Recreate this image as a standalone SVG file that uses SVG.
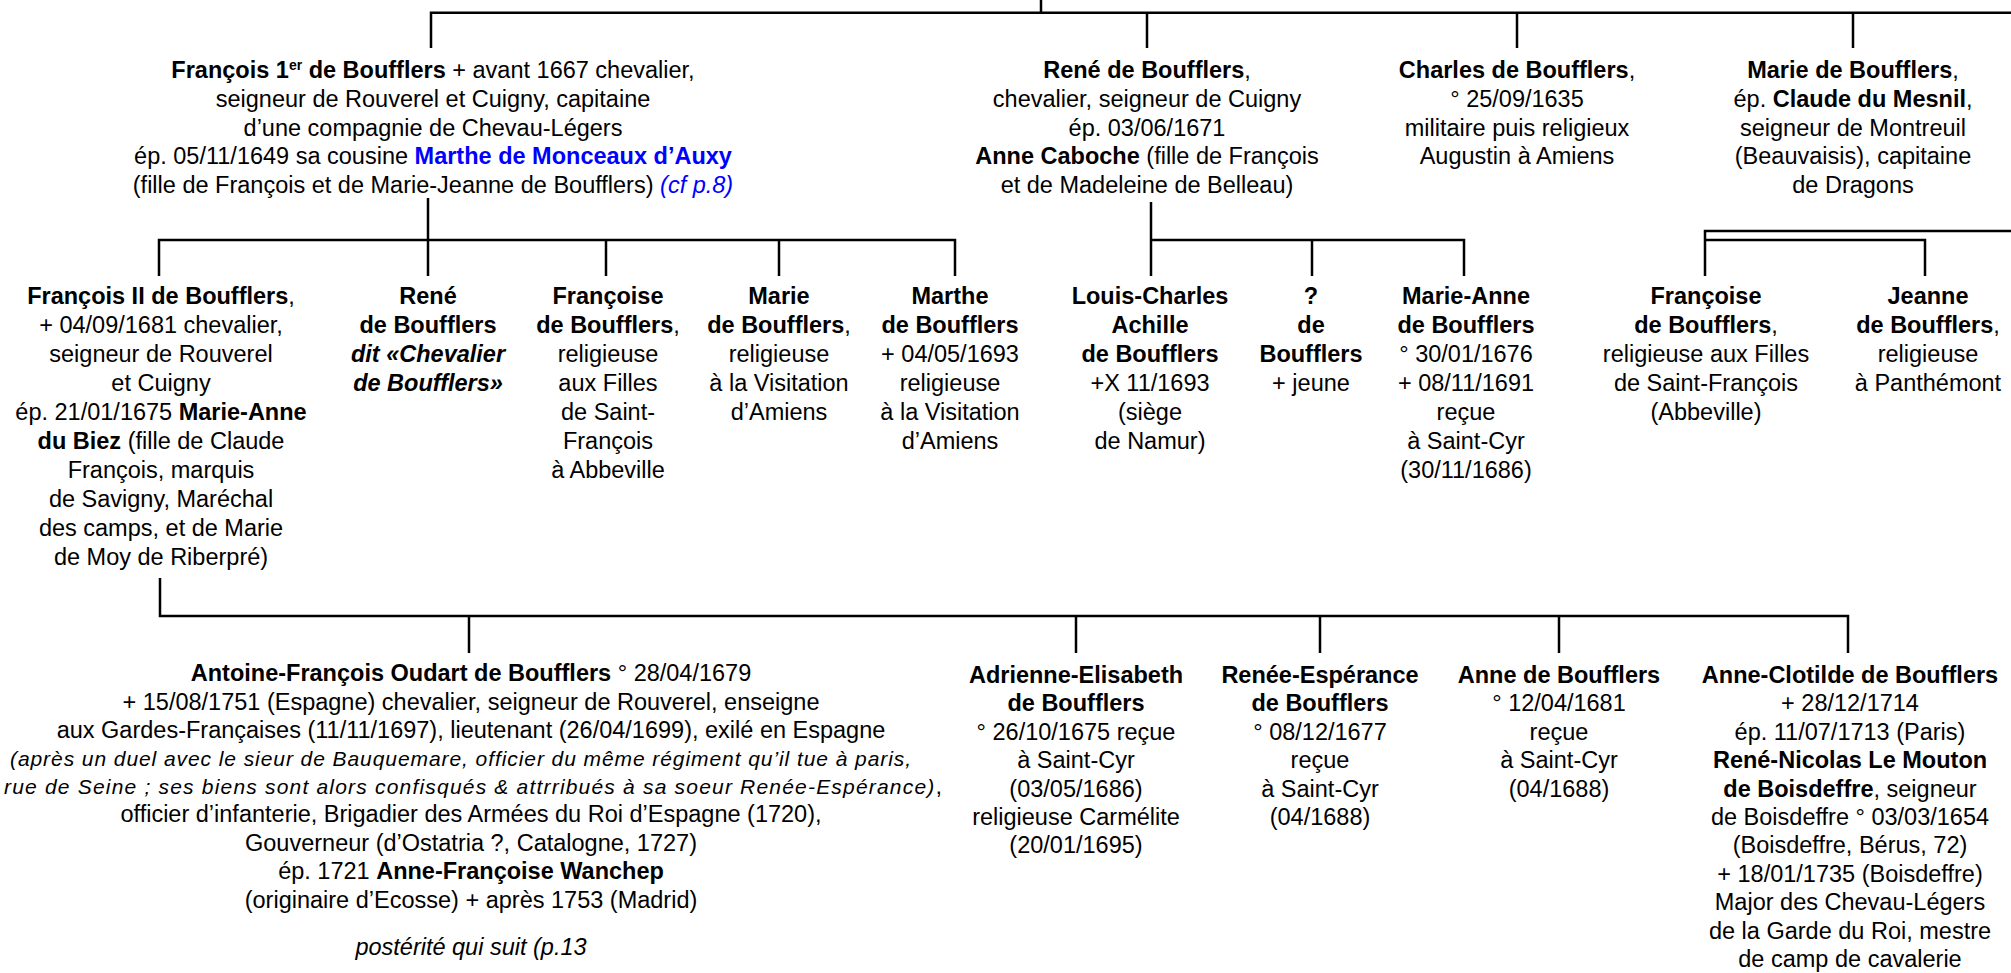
<svg xmlns="http://www.w3.org/2000/svg" width="2011" height="973" viewBox="0 0 2011 973">
<style>
text { font-family: "Liberation Sans", Arial, sans-serif; font-size: 23.5px; fill: #000; text-anchor: middle; }
.b { font-weight: bold; }
.i { font-style: italic; }
.blue { fill: #0000ff; }
.sup { font-size: 14px; font-weight: bold; }
.sm { font-size: 21px; font-style: italic; }
.st { text-anchor: start; }
.ln { stroke: #000; stroke-width: 2.5; fill: none; }
</style>
<rect width="2011" height="973" fill="#fff"/>
<g id="connectors">
<path class="ln" d="M1041,0 V12.7"/>
<path class="ln" d="M431,48 V12.7 H2011"/>
<path class="ln" d="M1147,12.7 V48"/>
<path class="ln" d="M1517,12.7 V48"/>
<path class="ln" d="M1853,12.7 V48"/>
<path class="ln" d="M428,198 V276"/>
<path class="ln" d="M159,276 V240 H955 V276"/>
<path class="ln" d="M606,240 V276"/>
<path class="ln" d="M779,240 V276"/>
<path class="ln" d="M1151,202 V276"/>
<path class="ln" d="M1151,240 H1464 V276"/>
<path class="ln" d="M1312,240 V276"/>
<path class="ln" d="M2011,231 H1705 V276"/>
<path class="ln" d="M1705,240 H1925 V276"/>
<path class="ln" d="M160,578 V616 H1848 V653"/>
<path class="ln" d="M469,616 V653"/>
<path class="ln" d="M1076,616 V653"/>
<path class="ln" d="M1320,616 V653"/>
<path class="ln" d="M1559,616 V653"/>
</g>
<g id="francois1">
<text x="433" y="78.3"><tspan class="b">François 1<tspan class="sup" baseline-shift="super">er</tspan> de Boufflers</tspan> + avant 1667 chevalier,</text>
<text x="433" y="106.9">seigneur de Rouverel et Cuigny, capitaine</text>
<text x="433" y="135.5">d’une compagnie de Chevau-Légers</text>
<text x="433" y="164.1">ép. 05/11/1649 sa cousine <tspan class="b blue">Marthe de Monceaux d’Auxy</tspan></text>
<text x="433" y="192.7">(fille de François et de Marie-Jeanne de Boufflers) <tspan class="i blue">(cf p.8)</tspan></text>
</g>
<g id="rene">
<text x="1147" y="78.3"><tspan class="b">René de Boufflers</tspan>,</text>
<text x="1147" y="106.9">chevalier, seigneur de Cuigny</text>
<text x="1147" y="135.5">ép. 03/06/1671</text>
<text x="1147" y="164.1"><tspan class="b">Anne Caboche</tspan> (fille de François</text>
<text x="1147" y="192.7">et de Madeleine de Belleau)</text>
</g>
<g id="charles">
<text x="1517" y="78.3"><tspan class="b">Charles de Boufflers</tspan>,</text>
<text x="1517" y="106.9">° 25/09/1635</text>
<text x="1517" y="135.5">militaire puis religieux</text>
<text x="1517" y="164.1">Augustin à Amiens</text>
</g>
<g id="marie">
<text x="1853" y="78.3"><tspan class="b">Marie de Boufflers</tspan>,</text>
<text x="1853" y="106.9">ép. <tspan class="b">Claude du Mesnil</tspan>,</text>
<text x="1853" y="135.5">seigneur de Montreuil</text>
<text x="1853" y="164.1">(Beauvaisis), capitaine</text>
<text x="1853" y="192.7">de Dragons</text>
</g>
<g id="francois2">
<text x="161" y="304"><tspan class="b">François II de Boufflers</tspan>,</text>
<text x="161" y="333">+ 04/09/1681 chevalier,</text>
<text x="161" y="362">seigneur de Rouverel</text>
<text x="161" y="391">et Cuigny</text>
<text x="161" y="420">ép. 21/01/1675 <tspan class="b">Marie-Anne</tspan></text>
<text x="161" y="449"><tspan class="b">du Biez</tspan> (fille de Claude</text>
<text x="161" y="478">François, marquis</text>
<text x="161" y="507">de Savigny, Maréchal</text>
<text x="161" y="536">des camps, et de Marie</text>
<text x="161" y="565">de Moy de Riberpré)</text>
</g>
<g id="rene-chevalier">
<text x="428" y="304" class="b">René</text>
<text x="428" y="333" class="b">de Boufflers</text>
<text x="428" y="362" class="b i">dit «Chevalier</text>
<text x="428" y="391" class="b i">de Boufflers»</text>
</g>
<g id="francoise1">
<text x="608" y="304" class="b">Françoise</text>
<text x="608" y="333"><tspan class="b">de Boufflers</tspan>,</text>
<text x="608" y="362">religieuse</text>
<text x="608" y="391">aux Filles</text>
<text x="608" y="420">de Saint-</text>
<text x="608" y="449">François</text>
<text x="608" y="478">à Abbeville</text>
</g>
<g id="marie2">
<text x="779" y="304" class="b">Marie</text>
<text x="779" y="333"><tspan class="b">de Boufflers</tspan>,</text>
<text x="779" y="362">religieuse</text>
<text x="779" y="391">à la Visitation</text>
<text x="779" y="420">d’Amiens</text>
</g>
<g id="marthe">
<text x="950" y="304" class="b">Marthe</text>
<text x="950" y="333" class="b">de Boufflers</text>
<text x="950" y="362">+ 04/05/1693</text>
<text x="950" y="391">religieuse</text>
<text x="950" y="420">à la Visitation</text>
<text x="950" y="449">d’Amiens</text>
</g>
<g id="louis-charles">
<text x="1150" y="304" class="b">Louis-Charles</text>
<text x="1150" y="333" class="b">Achille</text>
<text x="1150" y="362" class="b">de Boufflers</text>
<text x="1150" y="391">+X 11/1693</text>
<text x="1150" y="420">(siège</text>
<text x="1150" y="449">de Namur)</text>
</g>
<g id="inconnu">
<text x="1311" y="304" class="b">?</text>
<text x="1311" y="333" class="b">de</text>
<text x="1311" y="362" class="b">Boufflers</text>
<text x="1311" y="391">+ jeune</text>
</g>
<g id="marie-anne">
<text x="1466" y="304" class="b">Marie-Anne</text>
<text x="1466" y="333" class="b">de Boufflers</text>
<text x="1466" y="362">° 30/01/1676</text>
<text x="1466" y="391">+ 08/11/1691</text>
<text x="1466" y="420">reçue</text>
<text x="1466" y="449">à Saint-Cyr</text>
<text x="1466" y="478">(30/11/1686)</text>
</g>
<g id="francoise2">
<text x="1706" y="304" class="b">Françoise</text>
<text x="1706" y="333"><tspan class="b">de Boufflers</tspan>,</text>
<text x="1706" y="362">religieuse aux Filles</text>
<text x="1706" y="391">de Saint-François</text>
<text x="1706" y="420">(Abbeville)</text>
</g>
<g id="jeanne">
<text x="1928" y="304" class="b">Jeanne</text>
<text x="1928" y="333"><tspan class="b">de Boufflers</tspan>,</text>
<text x="1928" y="362">religieuse</text>
<text x="1928" y="391">à Panthémont</text>
</g>
<g id="antoine">
<text x="471" y="681"><tspan class="b">Antoine-François Oudart de Boufflers</tspan> ° 28/04/1679</text>
<text x="471" y="709.5">+ 15/08/1751 (Espagne) chevalier, seigneur de Rouverel, enseigne</text>
<text x="471" y="738">aux Gardes-Françaises (11/11/1697), lieutenant (26/04/1699), exilé en Espagne</text>
<text x="10" y="765.5" class="sm st" textLength="901" lengthAdjust="spacing">(après un duel avec le sieur de Bauquemare, officier du même régiment qu’il tue à paris,</text>
<text x="4" y="794" class="st" textLength="938" lengthAdjust="spacing"><tspan class="sm">rue de Seine ; ses biens sont alors confisqués &amp; attrribués à sa soeur Renée-Espérance)</tspan>,</text>
<text x="471" y="822">officier d’infanterie, Brigadier des Armées du Roi d’Espagne (1720),</text>
<text x="471" y="850.5">Gouverneur (d’Ostatria ?, Catalogne, 1727)</text>
<text x="471" y="879">ép. 1721 <tspan class="b">Anne-Françoise Wanchep</tspan></text>
<text x="471" y="907.5">(originaire d’Ecosse) + après 1753 (Madrid)</text>
<text x="471" y="955" class="i">postérité qui suit (p.13</text>
</g>
<g id="adrienne">
<text x="1076" y="683" class="b">Adrienne-Elisabeth</text>
<text x="1076" y="711.4" class="b">de Boufflers</text>
<text x="1076" y="739.8">° 26/10/1675 reçue</text>
<text x="1076" y="768.2">à Saint-Cyr</text>
<text x="1076" y="796.6">(03/05/1686)</text>
<text x="1076" y="825">religieuse Carmélite</text>
<text x="1076" y="853.4">(20/01/1695)</text>
</g>
<g id="renee">
<text x="1320" y="683" class="b">Renée-Espérance</text>
<text x="1320" y="711.4" class="b">de Boufflers</text>
<text x="1320" y="739.8">° 08/12/1677</text>
<text x="1320" y="768.2">reçue</text>
<text x="1320" y="796.6">à Saint-Cyr</text>
<text x="1320" y="825">(04/1688)</text>
</g>
<g id="anne">
<text x="1559" y="683" class="b">Anne de Boufflers</text>
<text x="1559" y="711.4">° 12/04/1681</text>
<text x="1559" y="739.8">reçue</text>
<text x="1559" y="768.2">à Saint-Cyr</text>
<text x="1559" y="796.6">(04/1688)</text>
</g>
<g id="anne-clotilde">
<text x="1850" y="683" class="b">Anne-Clotilde de Boufflers</text>
<text x="1850" y="711.4">+ 28/12/1714</text>
<text x="1850" y="739.8">ép. 11/07/1713 (Paris)</text>
<text x="1850" y="768.2" class="b">René-Nicolas Le Mouton</text>
<text x="1850" y="796.6"><tspan class="b">de Boisdeffre</tspan>, seigneur</text>
<text x="1850" y="825">de Boisdeffre ° 03/03/1654</text>
<text x="1850" y="853.4">(Boisdeffre, Bérus, 72)</text>
<text x="1850" y="881.8">+ 18/01/1735 (Boisdeffre)</text>
<text x="1850" y="910.2">Major des Chevau-Légers</text>
<text x="1850" y="938.6">de la Garde du Roi, mestre</text>
<text x="1850" y="967">de camp de cavalerie</text>
</g>
</svg>
